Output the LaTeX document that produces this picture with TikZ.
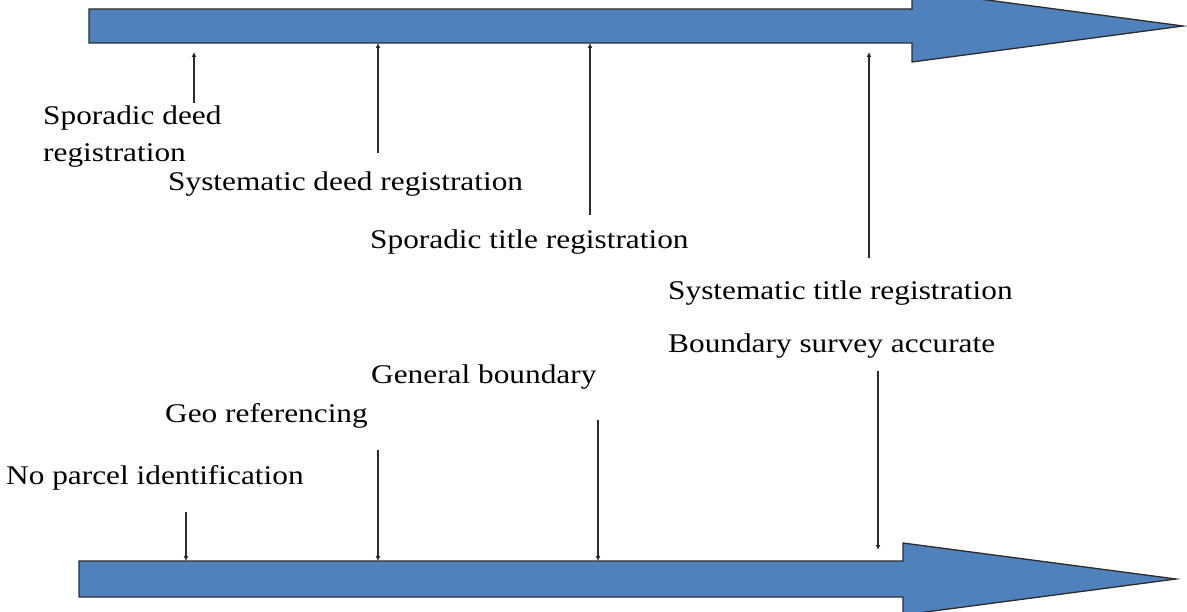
\documentclass[tikz,border=0pt]{standalone}
\usepackage{fontspec}
\setmainfont{Liberation Serif}
\usetikzlibrary{arrows.meta}
\definecolor{arrowblue}{HTML}{4F81BD}
\definecolor{edgegray}{HTML}{2B2B2B}
\newcommand{\wide}[1]{\scalebox{1.16}[1]{#1}}
\begin{document}
\begin{tikzpicture}[x=1pt,y=-1pt,
  lbl/.style={anchor=base west, inner sep=0pt, font=\fontsize{27}{37}\selectfont},
  conn/.style={draw=edgegray, line width=1.4pt, -{Latex[length=5pt,width=5pt]}},
  bigarrow/.style={fill=arrowblue, draw=edgegray, line width=1.3pt, line join=miter}]
\useasboundingbox (0,0) rectangle (1187,612);
\clip (0,0) rectangle (1187,612);

% big arrows
\draw[bigarrow] (89,9) -- (912,9) -- (912,-10) -- (1183,26) -- (912,62) -- (912,43) -- (89,43) -- cycle;
\draw[bigarrow] (79,561) -- (903,561) -- (903,543) -- (1176,579) -- (903,615) -- (903,597) -- (79,597) -- cycle;

% labels
\node[lbl, align=left] (sdr) at (43,162) {\wide{Sporadic deed}\\\wide{registration}};
\node[lbl] (sydr) at (168,191) {\wide{Systematic deed registration}};
\node[lbl] (str) at (370,249) {\wide{Sporadic title registration}};
\node[lbl] (sytr) at (668,300) {\wide{Systematic title registration}};
\node[lbl] (bsa) at (668,353) {\wide{Boundary survey accurate}};
\node[lbl] (gb) at (371,384) {\wide{General boundary}};
\node[lbl] (geo) at (165,423) {\wide{Geo referencing}};
\node[lbl] (npi) at (6,484) {\wide{No parcel identification}};

% connector end points
\coordinate (a1s) at (194,103); \coordinate (a1e) at (194,52);
\coordinate (a2s) at (378,153); \coordinate (a2e) at (378,43);
\coordinate (a3s) at (590,215); \coordinate (a3e) at (590,43);
\coordinate (a4s) at (869,258); \coordinate (a4e) at (869,52);
\coordinate (b1s) at (186,512); \coordinate (b1e) at (186,561);
\coordinate (b2s) at (378,450); \coordinate (b2e) at (378,561);
\coordinate (b3s) at (598,420); \coordinate (b3e) at (598,561);
\coordinate (b4s) at (878,371); \coordinate (b4e) at (878,550);

\draw[conn] (a1s) -- (a1e);
\draw[conn] (a2s) -- (a2e);
\draw[conn] (a3s) -- (a3e);
\draw[conn] (a4s) -- (a4e);
\draw[conn] (b1s) -- (b1e);
\draw[conn] (b2s) -- (b2e);
\draw[conn] (b3s) -- (b3e);
\draw[conn] (b4s) -- (b4e);
\end{tikzpicture}
\end{document}
